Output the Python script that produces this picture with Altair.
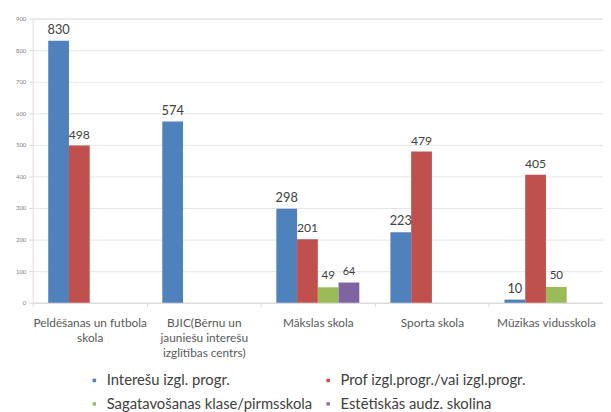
import altair as alt
import pandas as pd

categories = [
    "Peldēšanas un futbola|skola",
    "BJIC(Bērnu un|jauniešu interešu|izglītības centrs)",
    "Mākslas skola",
    "Sporta skola",
    "Mūzikas vidusskola",
]
series = [
    "Interešu izgl. progr.",
    "Prof izgl.progr./vai izgl.progr.",
    "Sagatavošanas klase/pirmsskola",
    "Estētiskās audz. skolina",
]
colors = ["#4F81BD", "#C0504D", "#9BBB59", "#8064A2"]

interesu = [830, 574, 298, 223, 10]
prof = [498, None, 201, 479, 405]
sagatav = [None, None, 49, None, 50]
estet = [None, None, 64, None, None]
y_ticks = [0, 100, 200, 300, 400, 500, 600, 700, 800, 900]

rows = []
for s, vals in zip(series, [interesu, prof, sagatav, estet]):
    for c, v in zip(categories, vals):
        if v is not None:
            rows.append({"category": c, "series": s, "value": v})
df = pd.DataFrame(rows)

FONT = "Lato"

x = alt.X(
    "category:N",
    sort=categories,
    scale=alt.Scale(paddingInner=0, paddingOuter=0),
    axis=alt.Axis(
        title=None,
        labelAngle=0,
        labelExpr="split(datum.label, '|')",
        labelFontSize=12,
        labelColor="#595959",
        labelFont=FONT,
        labelPadding=11,
        labelLineHeight=15,
        tickBand="extent",
        tickSize=4,
        tickColor="#d9d9d9",
        domainColor="#d9d9d9",
        grid=False,
        labelLimit=200,
    ),
)
xoff = alt.XOffset(
    "series:N",
    sort=series,
    scale=alt.Scale(domain=series, paddingOuter=0.75, paddingInner=0),
)
y = alt.Y(
    "value:Q",
    scale=alt.Scale(domain=[0, 900], nice=False),
    axis=alt.Axis(
        title=None,
        values=y_ticks,
        labelOverlap=False,
        labelFontSize=6,
        labelColor="#7f7f7f",
        labelFont=FONT,
        gridColor="#e6e6e6",
        domain=False,
        tickColor="#d9d9d9",
        tickSize=4,
        labelPadding=3,
    ),
)

bars = alt.Chart(df).mark_bar().encode(
    x=x,
    xOffset=xoff,
    y=y,
    color=alt.Color(
        "series:N",
        sort=series,
        scale=alt.Scale(domain=series, range=colors),
        legend=alt.Legend(
            title=None,
            orient="none",
            legendX=55,
            legendY=359,
            columns=2,
            direction="horizontal",
            symbolType="square",
            symbolSize=64,
            symbolStrokeWidth=0,
            labelFontSize=15,
            labelFont=FONT,
            labelColor="#404040",
            labelLimit=400,
            labelOffset=5,
            columnPadding=8,
            rowPadding=8,
        ),
    ),
)

labels = alt.Chart(df).mark_text(dy=-11, color="#404040", font=FONT).encode(
    x=x,
    xOffset=xoff,
    y=y,
    text="value:Q",
    size=alt.Size(
        "series:N",
        scale=alt.Scale(domain=series, range=[13, 11, 10, 10]),
        legend=None,
    ),
)

chart = (
    alt.layer(bars, labels)
    .properties(
        width=578,
        height=288,
        autosize=alt.AutoSizeParams(type="none"),
        padding={"left": 25, "top": 8, "right": 0, "bottom": 108},
    )
    .configure_view(stroke="transparent")
    .configure(background="white")
)

chart.save("out.html", embed_options={"renderer": "svg", "actions": False})
